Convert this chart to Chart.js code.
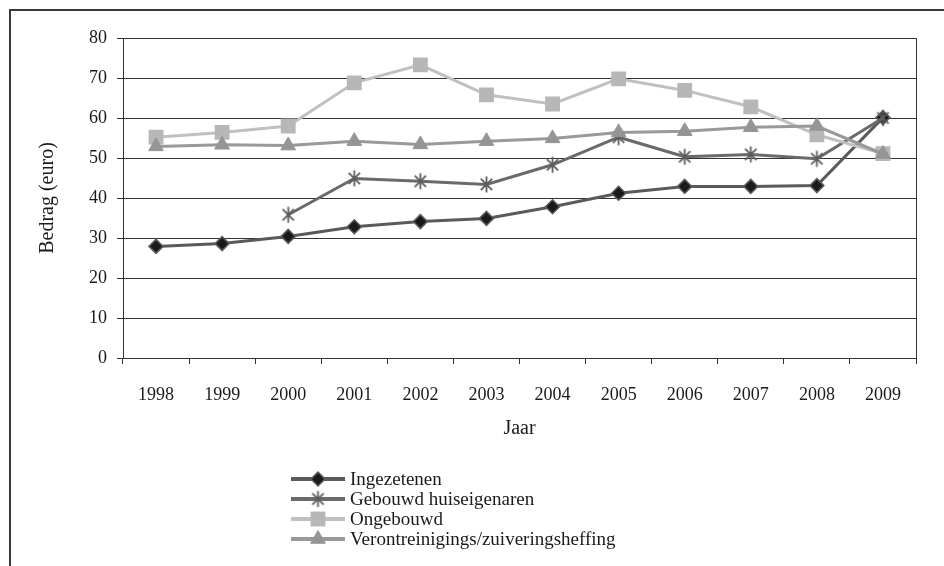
<!DOCTYPE html>
<html lang="nl">
<head>
  <meta charset="UTF-8" />
  <title>Bedrag per jaar</title>
  <script src="https://cdn.jsdelivr.net/npm/chart.js@4"></script>
  <style>
    body { margin: 0; background: #fff; font-family: 'Liberation Serif', serif; }
    .wrap { position: relative; width: 944px; height: 566px; overflow: hidden; }
    .frame { position: absolute; left: 9px; top: 9px; width: 960px; height: 600px;
             border-top: 2px solid #3a3a3a; border-left: 2px solid #3a3a3a; }
    #chart { position: absolute; left: 0; top: 0; }
    .legend { position: absolute; left: 291px; top: 469px; }
    .legend-item { display: flex; align-items: center; height: 20px; font-size: 19px; color: #1a1a1a; }
    .legend-item canvas { margin-right: 5px; }
  </style>
</head>
<body>
  <div class="wrap">
    <div class="frame"></div>
    <canvas id="chart" width="944" height="566"></canvas>
    <div class="legend" id="legend"></div>
  </div>

  <script>
    const years = ['1998', '1999', '2000', '2001', '2002', '2003', '2004', '2005', '2006', '2007', '2008', '2009'];
    const ingezetenen = [27.9, 28.6, 30.4, 32.8, 34.1, 34.9, 37.8, 41.2, 42.9, 42.9, 43.1, 60.1];
    const gebouwd = [null, null, 35.8, 44.9, 44.2, 43.4, 48.3, 55.2, 50.3, 50.9, 49.8, 60.0];
    const ongebouwd = [55.2, 56.4, 58.0, 68.8, 73.3, 65.8, 63.5, 69.8, 66.9, 62.8, 55.8, 51.1];
    const verontreiniging = [52.9, 53.3, 53.1, 54.2, 53.4, 54.2, 54.9, 56.4, 56.7, 57.7, 58.0, 51.0];
    const seriesNames = ['Ingezetenen', 'Gebouwd huiseigenaren', 'Ongebouwd', 'Verontreinigings/zuiveringsheffing'];

    // asterisk marker (vertical + X), like the spreadsheet "star"
    function makeStar(color) {
      const c = document.createElement('canvas');
      c.width = 19; c.height = 19;
      const g = c.getContext('2d');
      g.strokeStyle = color;
      g.lineWidth = 1.8;
      const r = 8, m = 9.5;
      g.beginPath();
      g.moveTo(m, m - r); g.lineTo(m, m + r);
      const d = r * Math.SQRT1_2;
      g.moveTo(m - d, m - d); g.lineTo(m + d, m + d);
      g.moveTo(m - d, m + d); g.lineTo(m + d, m - d);
      g.stroke();
      return c;
    }
    const starIcon = makeStar('#5c5c5c');

    const font = { family: "'Liberation Serif', serif", size: 18 };
    const titleFont = { family: "'Liberation Serif', serif", size: 20 };

    const datasets = [
      { label: seriesNames[0], data: ingezetenen, order: 4,
        borderColor: '#5a5a5a', borderWidth: 3,
        pointStyle: 'rectRot', pointRadius: 7, pointHoverRadius: 7,
        pointBackgroundColor: '#1a1a1a', pointBorderColor: '#5a5a5a', pointBorderWidth: 1.5 },
      { label: seriesNames[1], data: gebouwd, order: 3,
        borderColor: '#6a6a6a', borderWidth: 3,
        pointStyle: starIcon, pointRadius: 8, pointHoverRadius: 8 },
      { label: seriesNames[2], data: ongebouwd, order: 2,
        borderColor: '#c0c0c0', borderWidth: 3,
        pointStyle: 'rect', pointRadius: 10.5, pointHoverRadius: 10.5,
        pointBackgroundColor: '#b7b7b9', pointBorderColor: '#b7b7b9', pointBorderWidth: 0 },
      { label: seriesNames[3], data: verontreiniging, order: 1,
        borderColor: '#999999', borderWidth: 3,
        pointStyle: 'triangle', pointRadius: 8.5, pointHoverRadius: 8.5,
        pointBackgroundColor: '#959595', pointBorderColor: '#959595', pointBorderWidth: 1 }
    ];

    const chart = new Chart(document.getElementById('chart'), {
      type: 'line',
      data: { labels: years, datasets },
      options: {
        responsive: false,
        animation: false,
        layout: { padding: { left: 20, right: 28, top: 38, bottom: 125 } },
        elements: { line: { tension: 0 } },
        plugins: { legend: { display: false }, tooltip: { enabled: false } },
        scales: {
          x: {
            offset: true,
            grid: {
              offset: true,
              color: c => c.type === 'tick' ? 'rgba(0,0,0,0)' : '#333',
              tickColor: '#333', tickLength: 6, lineWidth: 1
            },
            border: { color: '#333' },
            ticks: { color: '#1a1a1a', font, padding: 20, maxRotation: 0 },
            title: { display: true, text: 'Jaar', color: '#1a1a1a', font: titleFont, padding: { top: 0, bottom: 0 } },
            afterFit: s => { s.height = 83; }
          },
          y: {
            min: 0, max: 80,
            ticks: { stepSize: 10, color: '#1a1a1a', font, padding: 10 },
            grid: { color: '#333', tickColor: '#333', tickLength: 6 },
            border: { color: '#333' },
            title: { display: true, text: 'Bedrag (euro)', color: '#1a1a1a', font: titleFont, padding: { top: 16, bottom: 0 } },
            afterFit: s => { s.width = 103; }
          }
        }
      }
    });

    // legend: line + marker icon per series, text as html
    const legendEl = document.getElementById('legend');
    datasets.forEach(ds => {
      const row = document.createElement('div');
      row.className = 'legend-item';
      const icon = document.createElement('canvas');
      icon.width = 54; icon.height = 20;
      const g = icon.getContext('2d');
      g.strokeStyle = ds.borderColor;
      g.lineWidth = 4;
      g.beginPath(); g.moveTo(0, 10); g.lineTo(54, 10); g.stroke();
      g.fillStyle = ds.pointBackgroundColor || ds.borderColor;
      g.strokeStyle = ds.pointBorderColor || ds.borderColor;
      g.lineWidth = ds.pointBorderWidth || 1;
      Chart.helpers.drawPoint(g, { pointStyle: ds.pointStyle, radius: ds.pointRadius, rotation: 0, borderWidth: ds.pointBorderWidth || 0 }, 27, 10);
      row.appendChild(icon);
      const txt = document.createElement('span');
      txt.textContent = ds.label;
      row.appendChild(txt);
      legendEl.appendChild(row);
    });
  </script>
</body>
</html>
